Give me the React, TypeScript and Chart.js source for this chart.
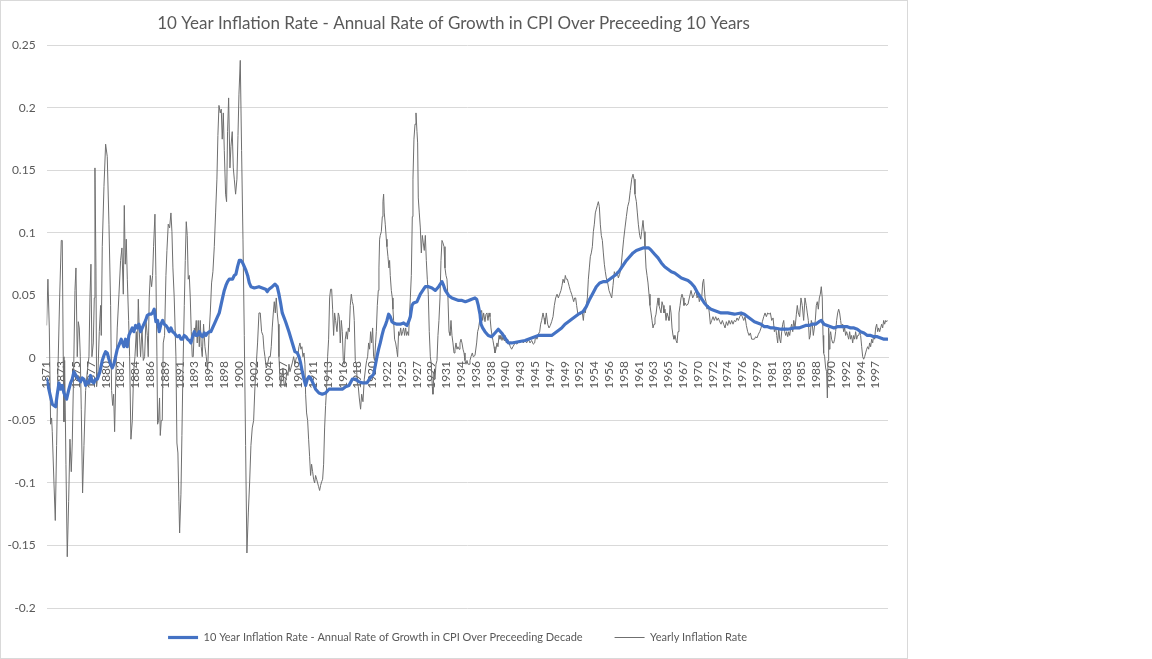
import React, { useEffect, useRef } from "react";
import { Chart, registerables } from "chart.js";

Chart.register(...registerables);

const chartTitle = "10 Year Inflation Rate - Annual Rate of Growth in CPI Over Preceeding 10 Years";
const seriesNames = [
  "10 Year Inflation Rate - Annual Rate of Growth in CPI Over Preceeding Decade",
  "Yearly Inflation Rate",
];

// category labels shown on the axis (every 27th month starting Jan 1871)
const tickLabels = [
  "1871", "1873", "1875", "1877", "1880", "1882", "1884", "1886", "1889", "1891",
  "1893", "1895", "1898", "1900", "1902", "1904", "1907", "1909", "1911", "1913",
  "1916", "1918", "1920", "1922", "1925", "1927", "1929", "1931", "1934", "1936",
  "1938", "1940", "1943", "1945", "1947", "1949", "1952", "1954", "1956", "1958",
  "1961", "1963", "1965", "1967", "1970", "1972", "1974", "1976", "1979", "1981",
  "1983", "1985", "1988", "1990", "1992", "1994", "1997",
];
const monthsPerLabel = 27;
const firstYear = 1871;
const lastYear = 1998.9;

const yMin = -0.2;
const yMax = 0.25;
const yStep = 0.05;

// 10-year rate (blue)
const tenYearYears = [
  1871.0, 1871.51, 1871.86, 1872.37, 1872.62, 1872.88, 1873.12, 1873.38, 1873.63, 1874.04,
  1874.39, 1874.65, 1874.9, 1875.16, 1875.46, 1875.82, 1876.17, 1876.42, 1876.68, 1876.93,
  1877.18, 1877.44, 1877.69, 1877.94, 1878.19, 1878.45, 1878.71, 1879.11, 1879.46, 1879.72,
  1879.97, 1880.22, 1880.48, 1880.73, 1880.98, 1881.23, 1881.49, 1881.74, 1882.14, 1882.34,
  1882.55, 1882.75, 1883.0, 1883.26, 1883.51, 1883.76, 1884.02, 1884.27, 1884.53, 1884.78,
  1885.03, 1885.29, 1885.54, 1885.79, 1886.05, 1886.3, 1886.56, 1886.86, 1887.11, 1887.36,
  1887.62, 1887.87, 1888.12, 1888.38, 1888.63, 1888.88, 1889.14, 1889.39, 1889.64, 1889.9,
  1890.15, 1890.4, 1890.66, 1890.91, 1891.16, 1891.42, 1891.67, 1891.93, 1892.18, 1892.43,
  1892.69, 1892.94, 1893.19, 1893.45, 1893.7, 1893.95, 1894.21, 1894.46, 1894.71, 1894.97,
  1895.22, 1895.47, 1895.73, 1895.98, 1896.23, 1896.49, 1896.74, 1896.99, 1897.25, 1897.5,
  1897.75, 1898.01, 1898.26, 1898.51, 1898.77, 1899.02, 1899.27, 1899.53, 1899.78, 1900.03,
  1900.29, 1900.54, 1900.8, 1901.05, 1901.3, 1901.56, 1901.81, 1902.06, 1902.57, 1903.28,
  1903.78, 1904.29, 1904.54, 1904.8, 1905.3, 1905.71, 1906.06, 1906.32, 1906.57, 1906.82,
  1907.33, 1907.84, 1908.35, 1908.75, 1909.11, 1909.36, 1909.61, 1909.87, 1910.12, 1910.37,
  1910.63, 1910.88, 1911.13, 1911.39, 1911.64, 1911.89, 1912.4, 1912.91, 1913.41, 1913.92,
  1914.93, 1915.95, 1916.45, 1916.96, 1917.47, 1917.98, 1918.48, 1918.99, 1919.7, 1920.2,
  1920.71, 1921.22, 1921.47, 1921.72, 1921.98, 1922.23, 1922.48, 1922.74, 1922.99, 1923.24,
  1923.5, 1923.75, 1924.26, 1924.77, 1925.27, 1925.78, 1926.03, 1926.29, 1926.54, 1926.79,
  1927.3, 1927.81, 1928.31, 1928.57, 1929.07, 1929.58, 1930.09, 1930.59, 1931.1, 1931.35,
  1931.61, 1932.11, 1932.62, 1933.13, 1933.63, 1934.14, 1934.65, 1935.16, 1935.61, 1936.12,
  1936.37, 1936.62, 1936.88, 1937.03, 1937.28, 1937.64, 1938.14, 1938.65, 1939.16, 1939.66,
  1940.17, 1940.68, 1941.19, 1941.69, 1942.71, 1943.72, 1944.73, 1945.75, 1946.76, 1947.77,
  1948.28, 1948.79, 1949.29, 1949.8, 1950.31, 1950.81, 1951.32, 1951.83, 1952.54, 1953.04,
  1953.55, 1954.06, 1954.56, 1955.07, 1955.58, 1956.08, 1956.59, 1957.1, 1957.61, 1958.11,
  1958.62, 1959.13, 1959.63, 1960.14, 1960.65, 1961.15, 1961.66, 1962.17, 1962.52, 1962.93,
  1963.43, 1963.94, 1964.45, 1964.95, 1965.46, 1965.97, 1966.47, 1966.98, 1967.49, 1967.99,
  1968.5, 1968.96, 1969.46, 1969.97, 1970.48, 1970.98, 1971.49, 1972.0, 1972.5, 1973.01,
  1973.52, 1974.53, 1975.55, 1976.56, 1977.07, 1977.57, 1978.08, 1978.59, 1979.09, 1979.6,
  1980.11, 1980.61, 1981.12, 1981.63, 1982.64, 1983.65, 1984.67, 1985.37, 1985.87, 1986.38,
  1986.89, 1987.39, 1987.9, 1988.41, 1988.76, 1989.17, 1989.67, 1990.18, 1990.69, 1991.2,
  1991.7, 1992.21, 1992.72, 1993.22, 1993.73, 1994.24, 1994.74, 1995.25, 1995.76, 1996.26,
  1996.77, 1997.28, 1997.79, 1998.29, 1998.8,
];
const tenYearRates = [
  -0.017, -0.029, -0.037, -0.039, -0.029, -0.02, -0.025, -0.022, -0.028, -0.033,
  -0.025, -0.02, -0.017, -0.011, -0.014, -0.017, -0.019, -0.016, -0.017, -0.022,
  -0.019, -0.02, -0.014, -0.019, -0.02, -0.017, -0.017, -0.011, -0.002, 0.002,
  0.005, 0.004, -0.001, -0.005, -0.008, -0.005, 0.001, 0.007, 0.012, 0.015,
  0.012, 0.009, 0.015, 0.009, 0.018, 0.021, 0.024, 0.021, 0.026, 0.024,
  0.027, 0.021, 0.024, 0.027, 0.03, 0.034, 0.035, 0.035, 0.036, 0.039,
  0.029, 0.03, 0.021, 0.027, 0.03, 0.027, 0.026, 0.024, 0.021, 0.024,
  0.021, 0.02, 0.018, 0.017, 0.018, 0.015, 0.015, 0.018, 0.017, 0.015,
  0.014, 0.012, 0.017, 0.021, 0.018, 0.018, 0.021, 0.018, 0.017, 0.02,
  0.018, 0.02, 0.021, 0.021, 0.024, 0.027, 0.03, 0.033, 0.036, 0.042,
  0.048, 0.054, 0.058, 0.061, 0.063, 0.063, 0.063, 0.066, 0.067, 0.073,
  0.078, 0.078, 0.076, 0.073, 0.07, 0.066, 0.06, 0.057, 0.056, 0.057,
  0.056, 0.055, 0.053, 0.055, 0.057, 0.059, 0.057, 0.051, 0.044, 0.036,
  0.029, 0.021, 0.012, 0.005, 0.004, 0.001, -0.004, -0.011, -0.017, -0.022,
  -0.017, -0.015, -0.016, -0.019, -0.022, -0.025, -0.028, -0.029, -0.028, -0.025,
  -0.025, -0.025, -0.023, -0.022, -0.017, -0.017, -0.019, -0.02, -0.02, -0.016,
  -0.013, 0.001, 0.007, 0.012, 0.018, 0.023, 0.026, 0.03, 0.035, 0.033,
  0.029, 0.028, 0.027, 0.027, 0.028, 0.026, 0.029, 0.033, 0.042, 0.044,
  0.045, 0.051, 0.055, 0.057, 0.057, 0.056, 0.054, 0.057, 0.061, 0.058,
  0.054, 0.05, 0.048, 0.047, 0.046, 0.046, 0.045, 0.046, 0.047, 0.048,
  0.047, 0.042, 0.035, 0.027, 0.024, 0.021, 0.018, 0.017, 0.02, 0.023,
  0.02, 0.016, 0.012, 0.012, 0.013, 0.014, 0.016, 0.018, 0.018, 0.018,
  0.02, 0.022, 0.024, 0.027, 0.029, 0.031, 0.033, 0.035, 0.037, 0.041,
  0.047, 0.052, 0.057, 0.06, 0.061, 0.061, 0.063, 0.065, 0.067, 0.07,
  0.074, 0.078, 0.081, 0.084, 0.086, 0.087, 0.088, 0.088, 0.088, 0.086,
  0.083, 0.08, 0.076, 0.073, 0.071, 0.069, 0.068, 0.066, 0.064, 0.063,
  0.062, 0.06, 0.057, 0.052, 0.048, 0.044, 0.041, 0.039, 0.038, 0.037,
  0.036, 0.036, 0.035, 0.036, 0.035, 0.033, 0.031, 0.029, 0.028, 0.027,
  0.025, 0.025, 0.024, 0.024, 0.023, 0.023, 0.024, 0.024, 0.025, 0.026,
  0.026, 0.027, 0.027, 0.029, 0.03, 0.027, 0.026, 0.025, 0.024, 0.025,
  0.025, 0.025, 0.025, 0.024, 0.024, 0.023, 0.021, 0.02, 0.018, 0.018,
  0.017, 0.017, 0.016, 0.015, 0.015,
];

// yearly rate (grey)
const yearlyYears = [
  1871.0, 1871.2, 1871.41, 1871.61, 1871.76, 1871.86, 1872.12, 1872.32, 1872.52, 1872.72,
  1872.98, 1873.23, 1873.38, 1873.53, 1873.64, 1873.74, 1873.94, 1874.14, 1874.35, 1874.55,
  1874.75, 1874.9, 1875.11, 1875.31, 1875.46, 1875.66, 1875.82, 1875.97, 1876.12, 1876.27,
  1876.47, 1876.68, 1876.93, 1877.18, 1877.44, 1877.59, 1877.74, 1877.89, 1878.1, 1878.25,
  1878.35, 1878.5, 1878.6, 1878.81, 1879.01, 1879.21, 1879.31, 1879.46, 1879.72, 1879.97,
  1880.22, 1880.48, 1880.73, 1880.88, 1881.04, 1881.19, 1881.34, 1881.54, 1881.74, 1882.0,
  1882.25, 1882.45, 1882.66, 1882.81, 1882.96, 1883.11, 1883.27, 1883.47, 1883.62, 1883.82,
  1884.03, 1884.23, 1884.43, 1884.63, 1884.79, 1884.94, 1885.09, 1885.29, 1885.5, 1885.7,
  1885.9, 1886.1, 1886.31, 1886.45, 1886.6, 1886.76, 1886.96, 1887.11, 1887.26, 1887.47,
  1887.62, 1887.77, 1887.87, 1888.02, 1888.17, 1888.28, 1888.43, 1888.58, 1888.73, 1888.93,
  1889.14, 1889.29, 1889.49, 1889.7, 1889.9, 1890.05, 1890.2, 1890.4, 1890.66, 1890.81,
  1890.96, 1891.11, 1891.22, 1891.42, 1891.57, 1891.72, 1891.93, 1892.08, 1892.23, 1892.38,
  1892.53, 1892.69, 1892.84, 1892.99, 1893.14, 1893.29, 1893.45, 1893.6, 1893.75, 1893.9,
  1894.05, 1894.21, 1894.36, 1894.51, 1894.66, 1894.86, 1895.07, 1895.27, 1895.47, 1895.68,
  1895.88, 1896.08, 1896.28, 1896.49, 1896.69, 1896.89, 1897.04, 1897.2, 1897.4, 1897.55,
  1897.7, 1897.86, 1898.01, 1898.21, 1898.36, 1898.51, 1898.67, 1898.87, 1899.02, 1899.22,
  1899.38, 1899.53, 1899.73, 1899.93, 1900.09, 1900.24, 1900.44, 1900.64, 1900.85, 1901.05,
  1901.25, 1901.45, 1901.66, 1901.86, 1902.06, 1902.26, 1902.47, 1902.67, 1903.07, 1903.28,
  1903.48, 1903.68, 1903.89, 1904.04, 1904.19, 1904.39, 1904.59, 1904.8, 1905.0, 1905.15,
  1905.3, 1905.46, 1905.61, 1905.76, 1905.91, 1906.06, 1906.22, 1906.32, 1906.42, 1906.57,
  1906.72, 1906.93, 1907.08, 1907.23, 1907.38, 1907.53, 1907.69, 1907.84, 1907.99, 1908.14,
  1908.35, 1908.55, 1908.75, 1908.95, 1909.16, 1909.36, 1909.51, 1909.66, 1909.81, 1909.97,
  1910.12, 1910.27, 1910.37, 1910.52, 1910.68, 1910.83, 1910.98, 1911.13, 1911.28, 1911.44,
  1911.59, 1911.74, 1911.89, 1912.05, 1912.2, 1912.35, 1912.5, 1912.65, 1912.81, 1912.96,
  1913.11, 1913.26, 1913.41, 1913.57, 1913.72, 1913.87, 1914.02, 1914.17, 1914.33, 1914.48,
  1914.63, 1914.78, 1914.93, 1915.14, 1915.34, 1915.49, 1915.64, 1915.8, 1915.95, 1916.1,
  1916.25, 1916.4, 1916.56, 1916.71, 1916.86, 1917.01, 1917.16, 1917.32, 1917.47, 1917.62,
  1917.77, 1917.92, 1918.08, 1918.23, 1918.38, 1918.53, 1918.73, 1918.89, 1919.09, 1919.29,
  1919.49, 1919.65, 1919.8, 1919.95, 1920.1, 1920.25, 1920.41, 1920.56, 1920.71, 1920.86,
  1921.01, 1921.12, 1921.27, 1921.42, 1921.52, 1921.62, 1921.72, 1921.88, 1922.03, 1922.13,
  1922.23, 1922.33, 1922.48, 1922.64, 1922.74, 1922.89, 1923.04, 1923.14, 1923.24, 1923.4,
  1923.55, 1923.65, 1923.75, 1923.9, 1924.06, 1924.21, 1924.36, 1924.51, 1924.66, 1924.82,
  1924.97, 1925.12, 1925.27, 1925.42, 1925.58, 1925.73, 1925.88, 1926.03, 1926.13, 1926.29,
  1926.44, 1926.59, 1926.69, 1926.84, 1927.0, 1927.15, 1927.3, 1927.4, 1927.5, 1927.65,
  1927.81, 1927.96, 1928.11, 1928.26, 1928.41, 1928.57, 1928.72, 1928.87, 1929.02, 1929.17,
  1929.33, 1929.48, 1929.63, 1929.73, 1929.88, 1930.04, 1930.19, 1930.34, 1930.49, 1930.64,
  1930.8, 1930.95, 1931.1, 1931.25, 1931.41, 1931.56, 1931.71, 1931.86, 1932.01, 1932.17,
  1932.32, 1932.47, 1932.62, 1932.77, 1932.93, 1933.08, 1933.23, 1933.38, 1933.53, 1933.69,
  1933.84, 1933.99, 1934.14, 1934.3, 1934.45, 1934.6, 1934.75, 1934.9, 1935.05, 1935.21,
  1935.36, 1935.51, 1935.71, 1935.86, 1936.12, 1936.37, 1936.52, 1936.67, 1936.83, 1936.98,
  1937.13, 1937.28, 1937.43, 1937.64, 1937.79, 1937.94, 1938.09, 1938.25, 1938.4, 1938.55,
  1938.7, 1938.85, 1939.01, 1939.16, 1939.31, 1939.46, 1939.61, 1939.77, 1939.92, 1940.07,
  1940.22, 1940.37, 1940.53, 1940.68, 1940.88, 1941.08, 1941.29, 1941.49, 1941.69, 1941.89,
  1942.1, 1942.3, 1942.5, 1942.71, 1942.96, 1943.21, 1943.47, 1943.72, 1943.97, 1944.23,
  1944.48, 1944.73, 1944.99, 1945.19, 1945.34, 1945.54, 1945.75, 1945.95, 1946.1, 1946.25,
  1946.46, 1946.61, 1946.76, 1946.96, 1947.17, 1947.37, 1947.57, 1947.77, 1947.98, 1948.18,
  1948.38, 1948.59, 1948.79, 1948.99, 1949.19, 1949.35, 1949.5, 1949.7, 1949.85, 1950.0,
  1950.16, 1950.31, 1950.46, 1950.61, 1950.81, 1950.97, 1951.12, 1951.27, 1951.42, 1951.57,
  1951.73, 1951.93, 1952.18, 1952.44, 1952.59, 1952.74, 1952.89, 1953.04, 1953.2, 1953.35,
  1953.5, 1953.65, 1953.8, 1953.96, 1954.11, 1954.26, 1954.41, 1954.56, 1954.72, 1954.87,
  1955.02, 1955.17, 1955.32, 1955.48, 1955.63, 1955.78, 1955.93, 1956.08, 1956.29, 1956.49,
  1956.69, 1956.9, 1957.1, 1957.3, 1957.5, 1957.71, 1957.91, 1958.11, 1958.31, 1958.52,
  1958.72, 1958.92, 1959.13, 1959.33, 1959.53, 1959.73, 1959.94, 1960.14, 1960.29, 1960.44,
  1960.65, 1960.8, 1960.95, 1961.15, 1961.31, 1961.46, 1961.66, 1961.81, 1961.96, 1962.12,
  1962.27, 1962.42, 1962.57, 1962.72, 1962.88, 1963.03, 1963.18, 1963.33, 1963.48, 1963.64,
  1963.79, 1963.94, 1964.09, 1964.24, 1964.4, 1964.55, 1964.7, 1964.85, 1965.0, 1965.16,
  1965.31, 1965.46, 1965.61, 1965.77, 1965.92, 1966.07, 1966.22, 1966.37, 1966.53, 1966.68,
  1966.83, 1966.98, 1967.13, 1967.29, 1967.44, 1967.59, 1967.74, 1967.89, 1968.05, 1968.25,
  1968.5, 1968.7, 1968.96, 1969.21, 1969.46, 1969.72, 1969.87, 1970.07, 1970.22, 1970.38,
  1970.58, 1970.73, 1970.88, 1971.09, 1971.24, 1971.39, 1971.59, 1971.74, 1971.9, 1972.1,
  1972.3, 1972.5, 1972.71, 1972.91, 1973.11, 1973.32, 1973.52, 1973.72, 1973.92, 1974.13,
  1974.33, 1974.53, 1974.73, 1974.94, 1975.14, 1975.34, 1975.55, 1975.75, 1975.95, 1976.15,
  1976.36, 1976.56, 1976.76, 1976.97, 1977.17, 1977.37, 1977.57, 1977.78, 1977.98, 1978.18,
  1978.38, 1978.59, 1978.79, 1978.99, 1979.2, 1979.4, 1979.6, 1979.8, 1980.01, 1980.21,
  1980.41, 1980.61, 1980.82, 1981.02, 1981.22, 1981.43, 1981.63, 1981.83, 1981.98, 1982.13,
  1982.29, 1982.44, 1982.59, 1982.74, 1982.89, 1983.05, 1983.2, 1983.35, 1983.5, 1983.66,
  1983.81, 1983.96, 1984.11, 1984.26, 1984.42, 1984.57, 1984.77, 1984.97, 1985.11, 1985.27,
  1985.47, 1985.67, 1985.87, 1986.08, 1986.28, 1986.48, 1986.63, 1986.79, 1986.94, 1987.09,
  1987.24, 1987.39, 1987.55, 1987.7, 1987.85, 1988.0, 1988.15, 1988.31, 1988.46, 1988.61,
  1988.76, 1988.91, 1989.02, 1989.12, 1989.27, 1989.42, 1989.57, 1989.68, 1989.78, 1989.88,
  1989.98, 1990.08, 1990.18, 1990.33, 1990.49, 1990.64, 1990.79, 1990.94, 1991.09, 1991.25,
  1991.4, 1991.55, 1991.7, 1991.85, 1992.01, 1992.16, 1992.31, 1992.46, 1992.61, 1992.77,
  1992.92, 1993.07, 1993.22, 1993.37, 1993.53, 1993.68, 1993.83, 1993.98, 1994.14, 1994.29,
  1994.44, 1994.59, 1994.74, 1994.9, 1995.05, 1995.2, 1995.35, 1995.5, 1995.66, 1995.81,
  1995.96, 1996.11, 1996.26, 1996.42, 1996.57, 1996.72, 1996.87, 1997.02, 1997.18, 1997.33,
  1997.48, 1997.63, 1997.78, 1997.94, 1998.09, 1998.24, 1998.39, 1998.55, 1998.7, 1998.8,
];
const yearlyRates = [
  0.026, 0.063, 0.024, -0.053, -0.048, -0.059, -0.1, -0.13, -0.07, -0.011,
  0.048, 0.094, 0.094, 0.001, -0.051, -0.002, -0.085, -0.159, -0.115, -0.065,
  -0.091, -0.068, -0.011, 0.054, 0.072, 0.001, 0.029, 0.024, 0.001, -0.041,
  -0.108, -0.07, -0.026, -0.011, 0.001, 0.048, 0.075, 0.001, 0.012, 0.048,
  0.152, 0.072, -0.023, -0.011, 0.021, 0.042, 0.018, 0.089, 0.137, 0.171,
  0.161, 0.107, 0.042, -0.026, -0.038, -0.029, -0.059, -0.011, 0.024, 0.051,
  0.078, 0.088, 0.051, 0.122, 0.075, 0.095, 0.063, 0.03, 0.001, -0.065,
  -0.05, -0.011, 0.001, 0.021, 0.001, 0.047, 0.021, 0.001, 0.024, -0.002,
  0.001, 0.03, 0.018, 0.001, 0.048, 0.066, 0.057, 0.066, 0.089, 0.115,
  0.066, 0.001, -0.053, -0.05, -0.032, -0.062, -0.05, -0.05, 0.012, 0.018,
  0.066, 0.086, 0.107, 0.104, 0.116, 0.101, 0.072, 0.048, 0.001, -0.068,
  -0.076, -0.115, -0.14, -0.109, -0.062, -0.011, 0.042, 0.078, 0.109, 0.098,
  0.063, 0.066, 0.048, 0.021, 0.001, 0.001, 0.024, 0.021, 0.03, 0.012,
  0.03, 0.009, 0.03, 0.009, 0.001, 0.027, 0.009, 0.001, -0.01, 0.018,
  0.036, 0.06, 0.069, 0.089, 0.116, 0.143, 0.178, 0.202, 0.196, 0.199,
  0.175, 0.196, 0.166, 0.131, 0.125, 0.181, 0.208, 0.152, 0.169, 0.181,
  0.152, 0.143, 0.131, 0.143, 0.178, 0.211, 0.238, 0.166, 0.095, 0.018,
  -0.07, -0.156, -0.124, -0.1, -0.07, -0.056, -0.05, -0.023, 0.012, 0.036,
  0.036, 0.021, 0.018, 0.007, 0.001, -0.008, -0.005, 0.001, 0.001, 0.009,
  0.024, 0.036, 0.045, 0.036, 0.048, 0.036, 0.027, 0.001, -0.011, -0.023,
  -0.017, -0.008, -0.02, -0.023, -0.017, -0.011, -0.014, -0.005, -0.011, -0.008,
  -0.004, 0.001, -0.005, 0.0, 0.001, 0.009, 0.012, 0.007, 0.009, 0.001,
  0.004, -0.005, -0.029, -0.044, -0.05, -0.065, -0.079, -0.094, -0.085, -0.091,
  -0.097, -0.1, -0.094, -0.097, -0.1, -0.103, -0.106, -0.102, -0.099, -0.097,
  -0.085, -0.056, -0.038, -0.023, 0.001, 0.015, 0.048, 0.055, 0.055, 0.039,
  0.018, 0.036, 0.03, 0.021, 0.036, 0.033, 0.012, 0.03, 0.021, -0.002,
  -0.005, 0.015, 0.021, 0.015, 0.024, 0.021, 0.042, 0.051, 0.045, 0.042,
  0.03, -0.002, -0.005, -0.02, -0.023, -0.032, -0.041, -0.029, -0.035, -0.017,
  -0.008, -0.002, 0.001, 0.012, 0.007, 0.021, 0.012, 0.024, 0.001, -0.002,
  0.012, 0.021, 0.042, 0.054, 0.072, 0.095, 0.098, 0.101, 0.113, 0.125,
  0.131, 0.116, 0.107, 0.095, 0.089, 0.081, 0.072, 0.078, 0.066, 0.054,
  0.048, 0.039, 0.03, 0.015, 0.012, 0.007, 0.001, 0.021, 0.018, 0.024,
  0.018, 0.021, 0.024, 0.018, 0.024, 0.018, 0.021, 0.018, 0.03, 0.048,
  0.066, 0.113, 0.143, 0.175, 0.187, 0.196, 0.181, 0.172, 0.128, 0.116,
  0.104, 0.084, 0.098, 0.092, 0.086, 0.098, 0.078, 0.063, 0.051, 0.021,
  0.001, -0.005, -0.023, -0.029, -0.011, -0.017, -0.005, -0.002, 0.018, 0.03,
  0.048, 0.078, 0.094, 0.092, 0.089, 0.072, 0.066, 0.063, 0.048, 0.021,
  0.018, 0.03, 0.018, 0.012, 0.004, 0.007, 0.012, 0.007, 0.009, 0.007,
  0.012, 0.015, 0.012, 0.007, 0.004, -0.002, -0.005, -0.002, -0.005, -0.005,
  -0.002, 0.001, 0.004, 0.001, 0.002, 0.012, 0.021, 0.024, 0.03, 0.036,
  0.038, 0.03, 0.036, 0.029, 0.035, 0.036, 0.03, 0.036, 0.033, 0.024,
  0.018, 0.014, 0.009, 0.004, 0.007, 0.012, 0.009, 0.018, 0.015, 0.018,
  0.014, 0.017, 0.014, 0.018, 0.012, 0.015, 0.012, 0.009, 0.007, 0.009,
  0.011, 0.012, 0.011, 0.013, 0.012, 0.014, 0.012, 0.014, 0.012, 0.015,
  0.012, 0.014, 0.011, 0.012, 0.018, 0.015, 0.019, 0.021, 0.027, 0.03,
  0.036, 0.032, 0.027, 0.036, 0.027, 0.024, 0.026, 0.029, 0.033, 0.042,
  0.048, 0.051, 0.048, 0.051, 0.054, 0.058, 0.063, 0.06, 0.066, 0.063,
  0.063, 0.06, 0.057, 0.054, 0.051, 0.048, 0.045, 0.048, 0.048, 0.042,
  0.036, 0.035, 0.035, 0.036, 0.03, 0.039, 0.036, 0.042, 0.048, 0.063,
  0.072, 0.081, 0.084, 0.089, 0.101, 0.107, 0.116, 0.119, 0.122, 0.125,
  0.121, 0.107, 0.098, 0.094, 0.084, 0.075, 0.069, 0.064, 0.06, 0.054,
  0.051, 0.048, 0.058, 0.069, 0.066, 0.069, 0.064, 0.067, 0.072, 0.084,
  0.095, 0.104, 0.113, 0.121, 0.125, 0.134, 0.143, 0.147, 0.143, 0.131,
  0.125, 0.116, 0.107, 0.098, 0.095, 0.101, 0.11, 0.101, 0.089, 0.072,
  0.066, 0.06, 0.051, 0.042, 0.036, 0.03, 0.024, 0.027, 0.032, 0.035,
  0.042, 0.048, 0.042, 0.039, 0.036, 0.045, 0.042, 0.036, 0.039, 0.03,
  0.036, 0.033, 0.03, 0.042, 0.036, 0.024, 0.018, 0.015, 0.018, 0.014,
  0.012, 0.021, 0.036, 0.042, 0.048, 0.051, 0.048, 0.042, 0.044, 0.042,
  0.043, 0.048, 0.054, 0.048, 0.051, 0.054, 0.048, 0.051, 0.045, 0.048,
  0.048, 0.06, 0.063, 0.048, 0.045, 0.039, 0.042, 0.036, 0.027, 0.03,
  0.033, 0.03, 0.033, 0.03, 0.032, 0.029, 0.027, 0.03, 0.027, 0.024,
  0.029, 0.026, 0.03, 0.027, 0.03, 0.027, 0.03, 0.029, 0.032, 0.03,
  0.033, 0.035, 0.033, 0.03, 0.033, 0.026, 0.021, 0.018, 0.02, 0.015,
  0.015, 0.015, 0.017, 0.016, 0.019, 0.021, 0.024, 0.029, 0.033, 0.036,
  0.033, 0.036, 0.035, 0.036, 0.03, 0.032, 0.021, 0.024, 0.018, 0.012,
  0.024, 0.015, 0.012, 0.021, 0.027, 0.03, 0.021, 0.018, 0.021, 0.017,
  0.021, 0.018, 0.024, 0.027, 0.021, 0.03, 0.024, 0.035, 0.042, 0.036,
  0.033, 0.048, 0.042, 0.03, 0.048, 0.042, 0.036, 0.03, 0.015, 0.018,
  0.03, 0.027, 0.018, 0.024, 0.03, 0.042, 0.045, 0.039, 0.048, 0.051,
  0.057, 0.048, 0.018, 0.004, 0.001, -0.008, -0.011, -0.032, -0.002, 0.024,
  0.007, 0.018, 0.021, 0.015, 0.012, 0.012, 0.015, 0.021, 0.03, 0.036,
  0.039, 0.036, 0.03, 0.024, 0.027, 0.021, 0.024, 0.018, 0.021, 0.018,
  0.015, 0.021, 0.015, 0.018, 0.012, 0.018, 0.015, 0.021, 0.015, 0.018,
  0.018, 0.021, 0.018, 0.009, 0.001, -0.001, 0.001, 0.004, 0.007, 0.009,
  0.007, 0.012, 0.009, 0.015, 0.012, 0.018, 0.015, 0.024, 0.027, 0.021,
  0.024, 0.021, 0.024, 0.027, 0.024, 0.03, 0.027, 0.03, 0.029, 0.03,
];

const FONT = "Lato, 'Liberation Sans', sans-serif";
const TEXT = "#595959";
const GRID = "#d9d9d9";

const boxShift = {
  id: "boxShift",
  afterLayout(chart: any) {
    const lg = chart.legend;
    if (lg) {
      lg.top -= 8;
      lg.bottom -= 8;
      lg.left += 13;
      lg.right += 13;
    }
    const tb = chart.titleBlock;
    if (tb) {
      tb.left += 9;
      tb.right += 9;
    }
  },
};

export default function App() {
  const ref = useRef<HTMLCanvasElement | null>(null);

  useEffect(() => {
    document.body.style.margin = "0";
    const canvas = ref.current;
    if (!canvas) return;
    const tickValues = tickLabels.map((_, k) => firstYear + (k * monthsPerLabel) / 12);

    const chart = new Chart(canvas, {
      type: "line",
      data: {
        datasets: [
          {
            label: seriesNames[0],
            data: tenYearYears.map((x, i) => ({ x, y: tenYearRates[i] })),
            borderColor: "#4472C4",
            backgroundColor: "#4472C4",
            borderWidth: 3.2,
            pointRadius: 0,
            pointHoverRadius: 0,
            tension: 0,
            borderJoinStyle: "round",
            borderCapStyle: "round",
          },
          {
            label: seriesNames[1],
            data: yearlyYears.map((x, i) => ({ x, y: yearlyRates[i] })),
            borderColor: "#6f6f6f",
            backgroundColor: "#6f6f6f",
            borderWidth: 1,
            pointRadius: 0,
            pointHoverRadius: 0,
            tension: 0,
          },
        ],
      },
      options: {
        animation: false,
        responsive: false,
        maintainAspectRatio: false,
        events: [],
        layout: { padding: { left: 0, right: 19, top: 0, bottom: -3 } },
        plugins: {
          title: {
            display: true,
            text: chartTitle,
            color: TEXT,
            font: { family: FONT, size: 17, weight: "normal" },
            padding: { top: 12, bottom: 12 },
          },
          legend: {
            display: true,
            position: "bottom",
            labels: {
              usePointStyle: true,
              pointStyle: "line",
              pointStyleWidth: 30,
              color: TEXT,
              font: { family: FONT, size: 11 },
              padding: 32,
            },
          },
          tooltip: { enabled: false },
        },
        scales: {
          x: {
            type: "linear",
            position: { y: 0 } as any,
            min: firstYear,
            max: lastYear,
            grid: { display: false, drawTicks: false },
            border: { display: true, color: GRID, width: 1 },
            afterBuildTicks: (axis: any) => {
              axis.ticks = tickValues.map((v) => ({ value: v }));
            },
            ticks: {
              autoSkip: false,
              minRotation: 90,
              maxRotation: 90,
              padding: 3,
              color: TEXT,
              font: { family: FONT, size: 12 },
              callback: (_v: any, i: number) => tickLabels[i],
            },
          },
          y: {
            type: "linear",
            min: yMin,
            max: yMax,
            afterFit: (scale: any) => {
              scale.width = 45.6;
            },
            grid: { color: GRID, drawTicks: false, lineWidth: 1 },
            border: { display: false },
            ticks: {
              stepSize: yStep,
              padding: 11,
              color: TEXT,
              font: { family: FONT, size: 12 },
              callback: (v: any) => String(Math.round(Number(v) * 100) / 100),
            },
          },
        },
      },
      plugins: [boxShift],
    } as any);

    return () => chart.destroy();
  }, []);

  return (
    <div
      style={{
        position: "absolute",
        left: 0,
        top: 0,
        width: 908,
        height: 659,
        boxSizing: "border-box",
        border: "1px solid #d9d9d9",
        background: "#ffffff",
      }}
    >
      <canvas ref={ref} width={906} height={657} style={{ display: "block", width: 906, height: 657 }} />
    </div>
  );
}
